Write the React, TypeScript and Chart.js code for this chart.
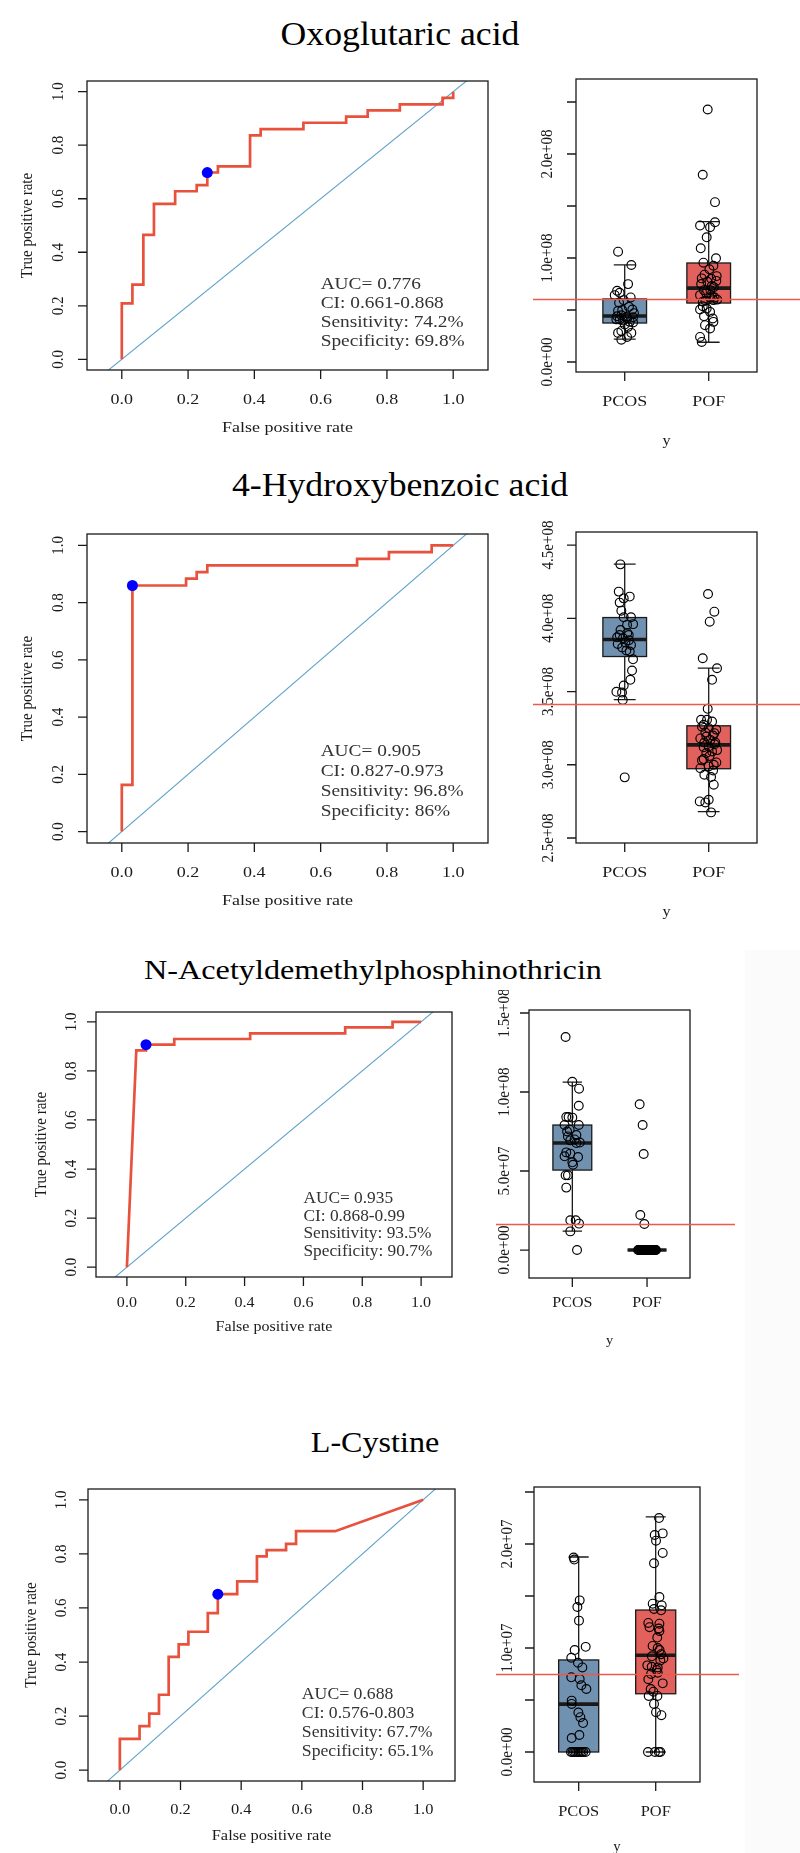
import React, { useEffect, useRef } from "react";
import { Chart, registerables } from "chart.js";
Chart.register(...registerables);

// ---------------- DATA ----------------
const titles = ["Oxoglutaric acid", "4-Hydroxybenzoic acid", "N-Acetyldemethylphosphinothricin", "L-Cystine"];
const groups = ["PCOS", "POF"];
const rocTicks = [0, 0.2, 0.4, 0.6, 0.8, 1.0];
const rocTickLabels = ["0.0", "0.2", "0.4", "0.6", "0.8", "1.0"];

const notes1 = ["AUC= 0.776", "CI: 0.661-0.868", "Sensitivity: 74.2%", "Specificity: 69.8%"];
const notes2 = ["AUC= 0.905", "CI: 0.827-0.973", "Sensitivity: 96.8%", "Specificity: 86%"];
const notes3 = ["AUC= 0.935", "CI: 0.868-0.99", "Sensitivity: 93.5%", "Specificity: 90.7%"];
const notes4 = ["AUC= 0.688", "CI: 0.576-0.803", "Sensitivity: 67.7%", "Specificity: 65.1%"];

const roc1Fpr = [0, 0, 0.032, 0.032, 0.065, 0.065, 0.097, 0.097, 0.161, 0.161, 0.226, 0.226, 0.258, 0.258, 0.29, 0.29, 0.387, 0.387, 0.419, 0.419, 0.548, 0.548, 0.677, 0.677, 0.742, 0.742, 0.839, 0.839, 0.968, 0.968, 1.0, 1.0];
const roc1Tpr = [0, 0.209, 0.209, 0.279, 0.279, 0.465, 0.465, 0.581, 0.581, 0.628, 0.628, 0.651, 0.651, 0.698, 0.698, 0.721, 0.721, 0.837, 0.837, 0.86, 0.86, 0.884, 0.884, 0.907, 0.907, 0.93, 0.93, 0.953, 0.953, 0.977, 0.977, 1.0];
const roc2Fpr = [0, 0, 0.032, 0.032, 0.194, 0.194, 0.226, 0.226, 0.258, 0.258, 0.71, 0.71, 0.806, 0.806, 0.935, 0.935, 1.0];
const roc2Tpr = [0, 0.163, 0.163, 0.86, 0.86, 0.884, 0.884, 0.907, 0.907, 0.93, 0.93, 0.953, 0.953, 0.977, 0.977, 1.0, 1.0];
const roc3Fpr = [0, 0.032, 0.065, 0.065, 0.161, 0.161, 0.419, 0.419, 0.742, 0.742, 0.903, 0.903, 1.0];
const roc3Tpr = [0, 0.884, 0.884, 0.907, 0.907, 0.93, 0.93, 0.953, 0.953, 0.977, 0.977, 1.0, 1.0];
const roc4Fpr = [0, 0, 0.065, 0.065, 0.097, 0.097, 0.129, 0.129, 0.161, 0.161, 0.194, 0.194, 0.226, 0.226, 0.29, 0.29, 0.323, 0.323, 0.387, 0.387, 0.452, 0.452, 0.484, 0.484, 0.548, 0.548, 0.581, 0.581, 0.71, 1.0];
const roc4Tpr = [0, 0.116, 0.116, 0.163, 0.163, 0.209, 0.209, 0.279, 0.279, 0.419, 0.419, 0.465, 0.465, 0.512, 0.512, 0.581, 0.581, 0.651, 0.651, 0.698, 0.698, 0.791, 0.791, 0.814, 0.814, 0.837, 0.837, 0.884, 0.884, 1.0];

const best1 = [0.258, 0.698];
const best2 = [0.032, 0.86];
const best3 = [0.065, 0.907];
const best4 = [0.323, 0.651];

// boxplot stats: [lower whisker, Q1, median, Q3, upper whisker]
const box1Pcos = [2.2e7, 3.75e7, 4.42e7, 6.06e7, 9.33e7];
const box1Pof = [1.9e7, 5.67e7, 7.1e7, 9.52e7, 1.35e8];
const box2Pcos = [3.445e8, 3.739e8, 3.855e8, 4.005e8, 4.37e8];
const box2Pof = [2.68e8, 2.973e8, 3.136e8, 3.266e8, 3.66e8];
const box3Pcos = [1.2e7, 5.06e7, 6.77e7, 7.91e7, 1.063e8];
const box3Pof = [0, 0, 0, 0, 0];
const box4Pcos = [0, 0, 4.6e6, 8.85e6, 1.875e7];
const box4Pof = [0, 5.6e6, 9.3e6, 1.365e7, 2.26e7];

const cut1 = 6.06e7;
const cut2 = 3.418e8;
const cut3 = 1.65e7;
const cut4 = 7.5e6;

const boxTicks1 = [0, 5e7, 1e8, 1.5e8, 2e8, 2.5e8];
const boxLabels1 = ["0.0e+00", "", "1.0e+08", "", "2.0e+08", ""];
const boxTicks2 = [2.5e8, 3e8, 3.5e8, 4e8, 4.5e8];
const boxLabels2 = ["2.5e+08", "3.0e+08", "3.5e+08", "4.0e+08", "4.5e+08"];
const boxTicks3 = [0, 5e7, 1e8, 1.5e8];
const boxLabels3 = ["0.0e+00", "5.0e+07", "1.0e+08", "1.5e+08"];
const boxTicks4 = [0, 5e6, 1e7, 1.5e7, 2e7, 2.5e7];
const boxLabels4 = ["0.0e+00", "", "1.0e+07", "", "2.0e+07", ""];

// jittered points (value, horizontal jitter)
const p1PcosVal = [10.61e7, 9.33e7, 7.49e7, 6.85e7, 6.66e7, 6.43e7, 6.21e7, 5.95e7, 5.69e7, 5.05e7, 4.92e7, 4.5e7, 4.34e7, 4.08e7, 3.86e7, 3.6e7, 3.38e7, 2.99e7, 2.8e7, 2.8e7, 2.41e7, 2.15e7, 4.3e7, 4.1e7, 5.3e7, 5.0e7, 4.7e7, 4.4e7, 4.2e7, 4.0e7, 3.8e7];
const p1PcosJit = [-0.079, 0.079, 0.04, -0.091, -0.06, -0.119, 0.071, -0.012, -0.067, 0.091, -0.079, -0.04, 0.02, -0.06, 0.06, 0, 0.04, -0.04, 0.079, -0.079, 0.028, -0.04, 0.1, -0.1, 0.05, -0.03, 0.11, -0.09, 0.03, -0.02, 0.1];
const p1PofVal = [24.28e7, 18.0e7, 15.37e7, 13.44e7, 13.12e7, 12.96e7, 11.99e7, 10.93e7, 9.97e7, 9.55e7, 9.26e7, 8.91e7, 8.26e7, 8.04e7, 7.72e7, 7.3e7, 6.91e7, 6.43e7, 6.21e7, 5.95e7, 5.37e7, 5.14e7, 5.05e7, 4.82e7, 4.41e7, 4.18e7, 3.86e7, 3.54e7, 3.22e7, 2.41e7, 1.93e7, 6.0e7, 5.9e7, 6.2e7, 8.4e7, 8.0e7, 7.8e7, 7.5e7, 7.2e7, 6.9e7, 6.6e7, 6.3e7, 5.8e7];
const p1PofJit = [-0.012, -0.071, 0.075, 0.075, -0.103, 0.016, -0.024, -0.095, 0.087, -0.063, 0.056, 0.008, 0.095, -0.083, -0.016, 0.036, -0.056, -0.103, 0.016, 0.056, -0.071, -0.024, -0.103, 0.016, -0.056, 0.048, 0.056, -0.044, 0.016, -0.103, -0.083, 0.1, -0.04, 0.07, -0.05, 0.03, 0.09, -0.09, 0.06, 0.02, -0.03, 0.04, -0.07];

const p2PcosVal = [4.368e8, 4.182e8, 4.148e8, 4.136e8, 4.107e8, 4.052e8, 4.007e8, 4.007e8, 3.955e8, 3.886e8, 3.864e8, 3.886e8, 3.825e8, 3.834e8, 3.818e8, 3.773e8, 3.72e8, 3.643e8, 3.58e8, 3.541e8, 3.498e8, 3.493e8, 3.443e8, 2.914e8, 3.96e8, 3.92e8, 3.9e8, 3.87e8, 3.85e8, 3.8e8, 3.78e8];
const p2PcosJit = [-0.052, -0.071, 0.06, -0.012, -0.06, -0.04, -0.012, 0.075, 0.028, -0.06, -0.02, 0.048, -0.083, 0.008, 0.075, 0.06, 0.099, 0.087, 0.067, -0.012, -0.099, -0.032, -0.024, 0, 0.1, -0.05, 0.03, -0.09, 0.05, -0.03, 0.02];
const p2PofVal = [4.166e8, 4.045e8, 3.977e8, 3.727e8, 3.659e8, 3.58e8, 3.382e8, 3.307e8, 3.307e8, 3.295e8, 3.273e8, 3.25e8, 3.216e8, 3.193e8, 3.17e8, 3.152e8, 3.152e8, 3.125e8, 3.091e8, 3.08e8, 3.039e8, 3.016e8, 2.989e8, 2.977e8, 2.961e8, 2.932e8, 2.916e8, 2.864e8, 2.761e8, 2.75e8, 2.743e8, 2.675e8, 3.26e8, 3.24e8, 3.22e8, 3.2e8, 3.18e8, 3.14e8, 3.12e8, 3.1e8, 3.06e8, 3.03e8, 3.0e8];
const p2PofJit = [-0.008, 0.067, 0.012, -0.071, 0.099, 0.04, -0.012, -0.091, -0.02, 0.04, -0.06, 0, 0.067, -0.028, 0.02, -0.052, 0.079, 0, 0.04, -0.028, -0.06, 0.091, 0, -0.099, 0.052, -0.052, 0.028, 0.06, 0, -0.107, -0.04, 0.028, -0.08, 0.09, -0.04, 0.05, -0.1, 0.07, -0.06, 0.1, 0.01, -0.08, 0.06];

const p3PcosVal = [13.48e7, 10.65e7, 10.21e7, 9.13e7, 8.42e7, 8.42e7, 8.38e7, 7.91e7, 7.91e7, 7.62e7, 7.28e7, 7.19e7, 6.94e7, 6.77e7, 6.18e7, 6.1e7, 5.93e7, 5.89e7, 5.55e7, 5.4e7, 4.73e7, 4.73e7, 3.95e7, 1.88e7, 1.88e7, 1.67e7, 1.18e7, 0, 7.0e7, 7.5e7, 6.8e7];
const p3PcosJit = [-0.09, 0, 0.09, 0.086, -0.081, -0.05, 0, -0.104, 0.086, -0.036, 0.054, -0.059, -0.027, 0.054, -0.081, -0.027, -0.104, 0.077, 0, 0.009, -0.09, -0.059, -0.081, -0.027, 0.045, 0.09, -0.027, 0.063, 0.03, -0.07, 0.1];
const p3PofVal = [9.22e7, 7.91e7, 6.08e7, 2.22e7, 1.65e7, 0, 0, 0, 0, 0, 0, 0, 0, 0, 0, 0, 0, 0, 0, 0, 0, 0, 0, 0, 0, 0, 0, 0, 0, 0, 0, 0, 0, 0, 0, 0, 0, 0, 0, 0, 0, 0, 0];
const p3PofJit = [-0.099, -0.059, -0.045, -0.09, -0.036, -0.12, -0.11, -0.1, -0.09, -0.08, -0.075, -0.07, -0.06, -0.055, -0.05, -0.04, -0.035, -0.03, -0.02, -0.015, -0.01, 0, 0.005, 0.01, 0.02, 0.025, 0.03, 0.04, 0.045, 0.05, 0.06, 0.065, 0.07, 0.08, 0.085, 0.09, 0.1, 0.105, 0.11, 0.12, -0.005, 0.015, -0.025];

const p4PcosVal = [18.7e6, 18.5e6, 14.58e6, 13.94e6, 12.63e6, 10.11e6, 9.8e6, 9.06e6, 8.58e6, 8.13e6, 7.18e6, 7.02e6, 6.41e6, 6.06e6, 4.94e6, 4.62e6, 3.8e6, 3.35e6, 2.78e6, 1.63e6, 1.34e6, 0, 0, 0, 0, 0, 0, 0, 0, 0, 0];
const p4PcosJit = [-0.065, -0.057, 0.013, -0.017, 0.004, 0.091, -0.052, -0.096, -0.009, 0.048, -0.096, 0.013, 0.035, 0.1, -0.091, -0.091, -0.004, 0.022, 0.057, 0.009, -0.091, -0.1, -0.08, -0.06, -0.04, -0.02, 0.0, 0.02, 0.04, 0.06, 0.09];
const p4PofVal = [22.49e6, 21.02e6, 20.86e6, 20.32e6, 19.14e6, 18.15e6, 14.9e6, 14.26e6, 14.1e6, 13.75e6, 13.62e6, 12.41e6, 12.34e6, 11.87e6, 11.64e6, 10.0e6, 9.4e6, 8.33e6, 8.2e6, 8.13e6, 7.88e6, 7.62e6, 6.99e6, 6.6e6, 6.06e6, 5.8e6, 5.39e6, 5.39e6, 4.62e6, 3.83e6, 3.54e6, 9.2e6, 8.8e6, 12.0e6, 11.0e6, 10.2e6, 9.8e6, 9.0e6, 7.5e6, 0, 0, 0, 0];
const p4PofJit = [0.043, 0.091, -0.013, 0.004, 0.091, -0.022, 0.048, -0.039, 0.078, -0.022, 0.07, -0.096, 0.048, 0.039, 0.048, 0.026, 0.07, -0.109, -0.052, 0.026, 0.013, 0.026, -0.096, 0.091, -0.065, -0.03, -0.091, 0.022, -0.022, 0.004, 0.074, -0.05, 0.06, -0.08, 0.02, -0.04, 0.05, 0.1, -0.06, -0.1, -0.01, 0.04, 0.06];

// ---------------- LAYOUT / STYLE ----------------
const SERIF = '"Liberation Serif", "Times New Roman", serif';
const ROC_COLOR = "#E8523D";
const DIAG_COLOR = "#5FA2C8";
const CUT_COLOR = "#EC5A4E";
const PCOS_FILL = "#7191B0";
const POF_FILL = "#E2615C";
const INK = "#1a1a1a";

type Box = { l: number; r: number; t: number; b: number };
type Layout = {
  top: number; h: number; roc: Box; box: Box;
  title: { x: number; y: number; fs: number; sx: number };
  fs: number; sx: number; rocYLab: number; rocYTitle: number; rocXLab: number; rocXTitle: number;
  boxYLab: number; boxXLab: number; boxXTitle: number; noteGap: number; cutX: [number, number];
  boxYMin: number; boxYMax: number;
};

const layouts: Layout[] = [
  { top: 50, h: 400, roc: { l: 87, r: 488, t: 81, b: 370 }, box: { l: 576, r: 757, t: 79, b: 372 },
    title: { x: 400, y: 34, fs: 34, sx: 1.05 }, fs: 15.5, sx: 1.16, rocYLab: 29, rocYTitle: 60, rocXLab: 30, rocXTitle: 58,
    boxYLab: 29, boxXLab: 30, boxXTitle: 69, noteGap: 19, cutX: [533, 800], boxYMin: -9.6e6, boxYMax: 2.721e8 },
  { top: 500, h: 430, roc: { l: 87, r: 488, t: 534, b: 843 }, box: { l: 576, r: 757, t: 532, b: 843 },
    title: { x: 400, y: 485, fs: 34, sx: 1.05 }, fs: 15.5, sx: 1.16, rocYLab: 29, rocYTitle: 60, rocXLab: 30, rocXTitle: 58,
    boxYLab: 28, boxXLab: 30, boxXTitle: 69, noteGap: 20, cutX: [533, 800], boxYMin: 2.466e8, boxYMax: 4.589e8 },
  { top: 990, h: 360, roc: { l: 96, r: 452, t: 1012, b: 1277 }, box: { l: 529, r: 690, t: 1010, b: 1278 },
    title: { x: 373, y: 970, fs: 28, sx: 1.15 }, fs: 15, sx: 1.07, rocYLab: 24, rocYTitle: 54, rocXLab: 26, rocXTitle: 50,
    boxYLab: 24, boxXLab: 25, boxXTitle: 62, noteGap: 17.5, cutX: [496, 735], boxYMin: -1.77e7, boxYMax: 1.519e8 },
  { top: 1470, h: 383, roc: { l: 88, r: 455, t: 1489, b: 1781 }, box: { l: 534, r: 700, t: 1487, b: 1782 },
    title: { x: 375, y: 1442, fs: 30, sx: 1.07 }, fs: 15.5, sx: 1.06, rocYLab: 26, rocYTitle: 56, rocXLab: 29, rocXTitle: 55,
    boxYLab: 26, boxXLab: 30, boxXTitle: 65, noteGap: 19, cutX: [496, 739], boxYMin: -2.885e6, boxYMax: 2.548e7 },
];

const ROC_CANVAS_W = 500;
const BOX_CANVAS_X = 490;
const BOX_CANVAS_W = 310;

type PanelData = {
  fpr: number[]; tpr: number[]; best: number[]; notes: string[];
  stats: number[][]; cut: number; ticks: number[]; tickLabels: string[];
  vals: number[][]; jit: number[][];
};

const panels: PanelData[] = [
  { fpr: roc1Fpr, tpr: roc1Tpr, best: best1, notes: notes1, stats: [box1Pcos, box1Pof], cut: cut1, ticks: boxTicks1, tickLabels: boxLabels1, vals: [p1PcosVal, p1PofVal], jit: [p1PcosJit, p1PofJit] },
  { fpr: roc2Fpr, tpr: roc2Tpr, best: best2, notes: notes2, stats: [box2Pcos, box2Pof], cut: cut2, ticks: boxTicks2, tickLabels: boxLabels2, vals: [p2PcosVal, p2PofVal], jit: [p2PcosJit, p2PofJit] },
  { fpr: roc3Fpr, tpr: roc3Tpr, best: best3, notes: notes3, stats: [box3Pcos, box3Pof], cut: cut3, ticks: boxTicks3, tickLabels: boxLabels3, vals: [p3PcosVal, p3PofVal], jit: [p3PcosJit, p3PofJit] },
  { fpr: roc4Fpr, tpr: roc4Tpr, best: best4, notes: notes4, stats: [box4Pcos, box4Pof], cut: cut4, ticks: boxTicks4, tickLabels: boxLabels4, vals: [p4PcosVal, p4PofVal], jit: [p4PcosJit, p4PofJit] },
];

// ---------------- DRAW HELPERS ----------------
function drawText(ctx: CanvasRenderingContext2D, s: string, x: number, y: number, fs: number, sx: number, rot: boolean, align: CanvasTextAlign = "center", color = INK) {
  ctx.save();
  ctx.translate(x, y);
  ctx.scale(sx, 1);
  if (rot) ctx.rotate(-Math.PI / 2);
  ctx.font = `${fs}px ${SERIF}`;
  ctx.fillStyle = color;
  ctx.textAlign = align;
  ctx.textBaseline = "middle";
  ctx.fillText(s, 0, 0);
  ctx.restore();
}

const framePlugin = {
  id: "rframe",
  afterDraw(chart: any, _args: any, opts: any) {
    if (!opts || !opts.on) return;
    const ctx: CanvasRenderingContext2D = chart.ctx;
    const a = chart.chartArea;
    const xs = chart.scales.x;
    const ys = chart.scales.y;
    const T = 9;
    ctx.save();
    ctx.strokeStyle = INK;
    ctx.lineWidth = 1.3;
    ctx.strokeRect(a.left, a.top, a.right - a.left, a.bottom - a.top);
    ctx.beginPath();
    (opts.xTicks as number[]).forEach((v) => {
      const px = xs.getPixelForValue(v);
      ctx.moveTo(px, a.bottom);
      ctx.lineTo(px, a.bottom + T);
    });
    (opts.yTicks as number[]).forEach((v) => {
      const py = ys.getPixelForValue(v);
      ctx.moveTo(a.left, py);
      ctx.lineTo(a.left - T, py);
    });
    ctx.stroke();
    ctx.restore();
    (opts.xTicks as number[]).forEach((v, i) => {
      const lab = opts.xLabels[i];
      if (lab) drawText(ctx, lab, xs.getPixelForValue(v), a.bottom + opts.xLabDy, opts.fs, opts.sx, false);
    });
    (opts.yTicks as number[]).forEach((v, i) => {
      const lab = opts.yLabels[i];
      if (lab) drawText(ctx, lab, a.left - opts.yLabDx, ys.getPixelForValue(v), opts.yfs, opts.sx, true);
    });
    if (opts.xTitle) drawText(ctx, opts.xTitle, (a.left + a.right) / 2, a.bottom + opts.xTitleDy, opts.fs, opts.sx, false);
    if (opts.yTitle) drawText(ctx, opts.yTitle, a.left - opts.yTitleDx, (a.top + a.bottom) / 2, opts.yfs, opts.sx, true);
    if (opts.notes) {
      const nx = xs.getPixelForValue(opts.notesAt[0]);
      const ny = ys.getPixelForValue(opts.notesAt[1]);
      (opts.notes as string[]).forEach((s, i) => drawText(ctx, s, nx, ny + i * opts.noteGap, opts.fs + 1.2, opts.sx, false, "left", "#333333"));
    }
  },
};

const boxPlugin = {
  id: "rbox",
  beforeDatasetsDraw(chart: any, _args: any, opts: any) {
    if (!opts || !opts.on) return;
    const ctx: CanvasRenderingContext2D = chart.ctx;
    const xs = chart.scales.x;
    const ys = chart.scales.y;
    (opts.stats as number[][]).forEach((st, gi) => {
      const cx = gi + 1;
      const x0 = xs.getPixelForValue(cx - opts.hw);
      const x1 = xs.getPixelForValue(cx + opts.hw);
      const s0 = xs.getPixelForValue(cx - opts.sw);
      const s1 = xs.getPixelForValue(cx + opts.sw);
      const xc = xs.getPixelForValue(cx);
      const [lo, q1, med, q3, hi] = st.map((v) => ys.getPixelForValue(v));
      ctx.save();
      ctx.strokeStyle = INK;
      ctx.lineWidth = 1.3;
      ctx.beginPath();
      ctx.moveTo(xc, q3); ctx.lineTo(xc, hi);
      ctx.moveTo(xc, q1); ctx.lineTo(xc, lo);
      ctx.moveTo(s0, hi); ctx.lineTo(s1, hi);
      ctx.moveTo(s0, lo); ctx.lineTo(s1, lo);
      ctx.stroke();
      ctx.fillStyle = opts.fills[gi];
      ctx.fillRect(x0, q3, x1 - x0, q1 - q3);
      ctx.strokeRect(x0, q3, x1 - x0, q1 - q3);
      ctx.lineWidth = 3.6;
      ctx.beginPath();
      ctx.moveTo(x0, med); ctx.lineTo(x1, med);
      ctx.stroke();
      ctx.restore();
    });
  },
  afterDraw(chart: any, _args: any, opts: any) {
    if (!opts || !opts.on) return;
    const ctx: CanvasRenderingContext2D = chart.ctx;
    const ys = chart.scales.y;
    const py = Math.round(ys.getPixelForValue(opts.cut)) + 0.5;
    ctx.save();
    ctx.strokeStyle = CUT_COLOR;
    ctx.lineWidth = 1.3;
    ctx.beginPath();
    ctx.moveTo(opts.cutX[0], py);
    ctx.lineTo(opts.cutX[1], py);
    ctx.stroke();
    ctx.restore();
    const xs = chart.scales.x;
    const a = chart.chartArea;
    (opts.groups as string[]).forEach((g, i) => drawText(ctx, g, xs.getPixelForValue(i + 1), a.bottom + opts.xLabDy, opts.fs, opts.sx, false));
    drawText(ctx, "y", (a.left + a.right) / 2, a.bottom + opts.xTitleDy, opts.fs * 0.9, opts.sx, false);
  },
};

Chart.register(framePlugin as any, boxPlugin as any);

function makeRoc(canvas: HTMLCanvasElement, L: Layout, P: PanelData) {
  const pts = P.fpr.map((x, i) => ({ x, y: P.tpr[i] }));
  return new Chart(canvas, {
    type: "scatter",
    data: {
      datasets: [
        { data: [{ x: P.best[0], y: P.best[1] }], pointRadius: 5.5, pointBackgroundColor: "#0000FF", pointBorderColor: "#0000FF", borderWidth: 0, showLine: false } as any,
        { data: pts, showLine: true, borderColor: ROC_COLOR, borderWidth: 2.7, pointRadius: 0, tension: 0, clip: 0 } as any,
        { data: [{ x: -0.3, y: -0.3 }, { x: 1.3, y: 1.3 }], showLine: true, borderColor: DIAG_COLOR, borderWidth: 1.1, pointRadius: 0, clip: 0 } as any,
      ],
    },
    options: {
      responsive: false,
      animation: false,
      devicePixelRatio: 1,
      events: [],
      layout: { padding: { left: L.roc.l, right: ROC_CANVAS_W - L.roc.r, top: L.roc.t - L.top, bottom: L.top + L.h - L.roc.b } },
      scales: {
        x: { type: "linear", min: -0.105, max: 1.105, display: false },
        y: { type: "linear", min: -0.04, max: 1.04, display: false },
      },
      plugins: {
        legend: { display: false },
        tooltip: { enabled: false },
        rframe: {
          on: true, xTicks: rocTicks, xLabels: rocTickLabels, yTicks: rocTicks, yLabels: rocTickLabels,
          xLabDy: L.rocXLab, xTitleDy: L.rocXTitle, yLabDx: L.rocYLab, yTitleDx: L.rocYTitle,
          xTitle: "False positive rate", yTitle: "True positive rate", fs: L.fs, yfs: 15, sx: L.sx,
          notes: P.notes, notesAt: [0.6, 0.278], noteGap: L.noteGap,
        },
      } as any,
    },
  });
}

function makeBox(canvas: HTMLCanvasElement, L: Layout, P: PanelData) {
  const ds = P.vals.map((vals, gi) => ({
    data: vals.map((v, i) => ({ x: gi + 1 + P.jit[gi][i], y: v })),
    pointRadius: 4.4,
    pointBorderColor: "#000",
    pointBackgroundColor: "rgba(0,0,0,0)",
    pointBorderWidth: 1.15,
    showLine: false,
    clip: 0,
  }));
  return new Chart(canvas, {
    type: "scatter",
    data: { datasets: ds as any },
    options: {
      responsive: false,
      animation: false,
      devicePixelRatio: 1,
      events: [],
      layout: { padding: { left: L.box.l - BOX_CANVAS_X, right: BOX_CANVAS_X + BOX_CANVAS_W - L.box.r, top: L.box.t - L.top, bottom: L.top + L.h - L.box.b } },
      scales: {
        x: { type: "linear", min: 0.42, max: 2.575, display: false },
        y: { type: "linear", min: L.boxYMin, max: L.boxYMax, display: false },
      },
      plugins: {
        legend: { display: false },
        tooltip: { enabled: false },
        rframe: {
          on: true, xTicks: [1, 2], xLabels: ["", ""], yTicks: P.ticks, yLabels: P.tickLabels,
          xLabDy: L.boxXLab, xTitleDy: L.boxXTitle, yLabDx: L.boxYLab, yTitleDx: 0,
          xTitle: "", yTitle: "", fs: L.fs, yfs: 15, sx: L.sx,
        },
        rbox: {
          on: true, stats: P.stats, fills: [PCOS_FILL, POF_FILL], hw: 0.26, sw: 0.13,
          cut: P.cut, cutX: [L.cutX[0] - BOX_CANVAS_X, L.cutX[1] - BOX_CANVAS_X],
          groups, xLabDy: L.boxXLab, xTitleDy: L.boxXTitle, fs: L.fs, sx: L.sx,
        },
      } as any,
    },
  });
}

function Panel({ idx }: { idx: number }) {
  const rocRef = useRef<HTMLCanvasElement>(null);
  const boxRef = useRef<HTMLCanvasElement>(null);
  const L = layouts[idx];
  const P = panels[idx];
  useEffect(() => {
    const c1 = makeRoc(rocRef.current!, L, P);
    const c2 = makeBox(boxRef.current!, L, P);
    return () => { c1.destroy(); c2.destroy(); };
  }, [idx]);
  return (
    <>
      <div style={{ position: "absolute", left: L.title.x, top: L.title.y, transform: `translate(-50%, -50%) scaleX(${L.title.sx})`, fontFamily: SERIF, fontSize: L.title.fs, color: "#000", whiteSpace: "nowrap", lineHeight: 1 }}>
        {titles[idx]}
      </div>
      <canvas ref={rocRef} width={ROC_CANVAS_W} height={L.h} style={{ position: "absolute", left: 0, top: L.top, width: ROC_CANVAS_W, height: L.h }} />
      <canvas ref={boxRef} width={BOX_CANVAS_W} height={L.h} style={{ position: "absolute", left: BOX_CANVAS_X, top: L.top, width: BOX_CANVAS_W, height: L.h }} />
    </>
  );
}

export default function App() {
  return (
    <div style={{ position: "absolute", left: 0, top: 0, width: 800, height: 1853, background: "#fff", overflow: "hidden" }}>
      <div style={{ position: "absolute", left: 745, top: 950, width: 55, height: 903, background: "#fbfbfb" }} />
      {[0, 1, 2, 3].map((i) => <Panel key={i} idx={i} />)}
    </div>
  );
}
